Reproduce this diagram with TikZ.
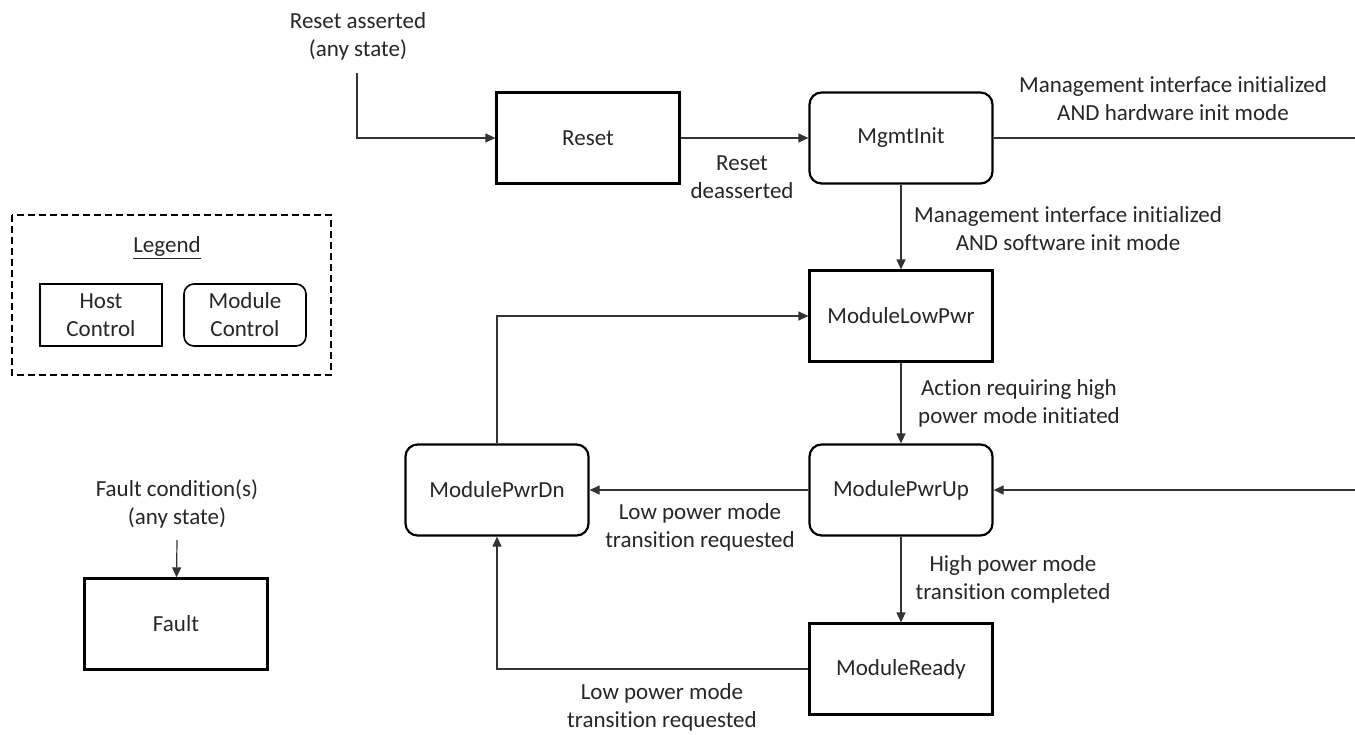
\documentclass[tikz,border=0pt]{standalone}
\usepackage{fontspec}
\setmainfont{Carlito}[Ligatures=NoCommon]
\usetikzlibrary{arrows.meta,positioning}

\begin{document}
\begin{tikzpicture}[
	%	style def
    x=0.5pt, y=-0.5pt,
    every node/.style={color=black!85, font=\fontsize{11.5}{14}\selectfont, align=center},
    host state/.style={draw=black, line width=1.1pt, minimum width=91.5pt, minimum height=45.5pt, inner sep=0pt},
    module state/.style={host state, rounded corners=6pt},
    legend box/.style={draw=black, line width=0.8pt, minimum width=61pt, minimum height=31pt, inner sep=0pt},
    important line/.style={line width=0.6pt, black!80},
    arrow/.style={important line, -{Triangle[length=5pt,width=4.5pt]}}
    ]
    \useasboundingbox (0,0) rectangle (1355,734);

	% states
    \node[host state]   (reset)  at (588,138) {Reset};
    \node[module state] (mgmt)   at (901,138) {MgmtInit};
    \node[host state]   (lowpwr) at (901,316) {ModuleLowPwr};
    \node[module state] (pwrup)  at (901,490) {ModulePwrUp};
    \node[module state] (pwrdn)  at (497,490) {ModulePwrDn};
    \node[host state]   (ready)  at (901,669) {ModuleReady};
    \node[host state]   (fault)  at (176,624) {Fault};

    % transition labels
    \node (rstasrt) at (358,36)   {Reset asserted\\(any state)};
    \node (rstdeas) at (742,177)  {Reset\\deasserted};
    \node (hwinit)  at (1173,99)  {Management interface initialized\\AND hardware init mode};
    \node (swinit)  at (1068,229) {Management interface initialized\\AND software init mode};
    \node (hipwr)   at (1019,403) {Action requiring high\\power mode initiated};
    \node (hidone)  at (1013,579) {High power mode\\transition completed};
    \node (lowreq)  at (700,527)  {Low power mode\\transition requested};
    \node (lowreq2) at (662,707)  {Low power mode\\transition requested};
    \node (fltcond) at (177,504)  {Fault condition(s)\\(any state)};

    % free ends
    \coordinate (rstsrc) at (357,73);
    \coordinate (hwout)  at (1355,138);
    \coordinate (hwin)   at (1355,490);
    \coordinate (fltsrc) at (177,540);

	% connecting states
    \draw[arrow] (rstsrc) |- (reset.west);
    \draw[arrow] (reset) -- (mgmt);
    \draw[important line] (mgmt) -- (hwout);
    \draw[arrow] (mgmt) -- (lowpwr);
    \draw[arrow] (lowpwr) -- (pwrup);
    \draw[arrow] (hwin) -- (pwrup);
    \draw[arrow] (pwrup) -- (pwrdn);
    \draw[arrow] (pwrup) -- (ready);
    \draw[arrow] (pwrdn.north) |- (lowpwr.west);
    \draw[arrow] (ready.west) -| (pwrdn.south);
    \draw[arrow] (fltsrc) -- (fault);

    % legend (dashed)
    \draw[line width=0.8pt, black, dash pattern=on 3.5pt off 2pt] (12,215) rectangle (331,375);
    \node (legend) at (167,248) {\underline{Legend}};
    \node[legend box] (hostctl) at (101,315) {Host\\Control};
    \node[legend box, rounded corners=5pt] (modctl) at (245,315) {Module\\Control};
\end{tikzpicture}
\end{document}
